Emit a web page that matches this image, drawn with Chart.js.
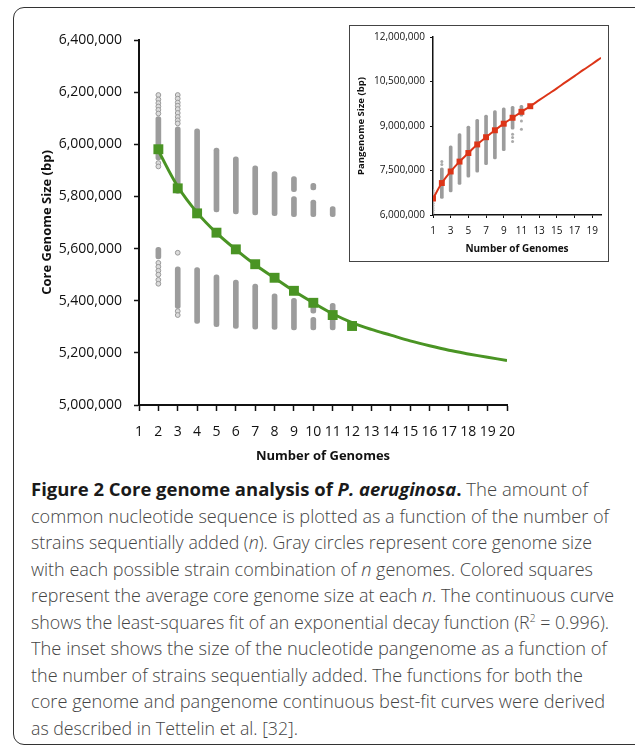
<!DOCTYPE html>
<html>
<head>
<meta charset="utf-8">
<script src="https://cdn.jsdelivr.net/npm/chart.js@4.4.1/dist/chart.umd.min.js"></script>
<style>
  html, body { margin: 0; padding: 0; background: #fff; width: 635px; height: 746px; overflow: hidden; }
  #frame { position: absolute; left: 13px; top: 7px; width: 660px; height: 736px; border: 1.5px solid #333; border-radius: 11px; }
  #mainCanvas { position: absolute; left: 0; top: 0; }
  #insetBox { position: absolute; left: 349px; top: 25px; width: 258px; height: 235px; border: 1.2px solid #444; background: #fff; }
  #insetCanvas { position: absolute; left: 0; top: 0; }
  #caption { position: absolute; left: 31px; top: 476px; font-family: 'Open Sans', sans-serif; font-size: 17.5px; font-weight: 300; color: #444; line-height: 26.5px; }
  #caption .ln { white-space: nowrap; transform-origin: 0 50%; width: max-content; }
  #caption b { font-weight: 700; color: #1a1a1a; }
</style>
</head>
<body>
<div id="frame"></div>
<canvas id="mainCanvas" width="635" height="470"></canvas>
<div id="insetBox"><canvas id="insetCanvas" width="258" height="235"></canvas></div>
<div id="caption">
  <div class="ln" data-w="557"><b>Figure 2 Core genome analysis of <i>P. aeruginosa</i>.</b> The amount of</div>
  <div class="ln" data-w="578">common nucleotide sequence is plotted as a function of the number of</div>
  <div class="ln" data-w="561">strains sequentially added (<i>n</i>). Gray circles represent core genome size</div>
  <div class="ln" data-w="562">with each possible strain combination of <i>n</i> genomes. Colored squares</div>
  <div class="ln" data-w="583">represent the average core genome size at each <i>n</i>. The continuous curve</div>
  <div class="ln" data-w="578">shows the least-squares fit of an exponential decay function (R<sup style="font-size:10px;line-height:0">2</sup> = 0.996).</div>
  <div class="ln" data-w="576">The inset shows the size of the nucleotide pangenome as a function of</div>
  <div class="ln" data-w="552">the number of strains sequentially added. The functions for both the</div>
  <div class="ln" data-w="574">core genome and pangenome continuous best-fit curves were derived</div>
  <div class="ln" data-w="267">as described in Tettelin et al. [32].</div>
</div>
<script>
// ---------------- Main chart: core genome size (bp) ----------------
const coreXTicks = [1,2,3,4,5,6,7,8,9,10,11,12,13,14,15,16,17,18,19,20];
const coreYTicks = [5000000,5200000,5400000,5600000,5800000,6000000,6200000,6400000];

const coreAvgN = [2,3,4,5,6,7,8,9,10,11,12];
const coreAvg  = [5981000,5831000,5735000,5661000,5597000,5540000,5488000,5438000,5392000,5345000,5303000];

const coreFitN = [2,3,4,5,6,7,8,9,10,11,12,13,14,15,16,17,18,19,20];
const coreFit  = [5975000,5838000,5738000,5660000,5596000,5538000,5487000,5437000,5392000,5350000,5316000,5290000,5268000,5246000,5227000,5210000,5196000,5183000,5171000];

// dense runs of gray circles (low..high) per n
const coreBandN    = [2,2,3,3,4,4,5,5,6,6,7,7,8,8,9,9,9,10,10,10,10,11,11];
const coreBandLow  = [5940000,5560000,5812000,5370000,5745000,5313000,5741000,5300000,5733000,5294000,5729000,5291000,5726000,5290000,5818000,5722000,5288000,5825000,5722000,5352000,5288000,5722000,5288000];
const coreBandHigh = [6106000,5605000,6067000,5530000,6059000,5527000,5985000,5499000,5952000,5479000,5917000,5464000,5895000,5426000,5876000,5799000,5409000,5850000,5786000,5387000,5336000,5761000,5390000];

// isolated gray circles
const coreDotN   = [2,2,2,2,2,2,2,2,2,2,2,2,2,2,3,3,3,3,3,3,3,3,3,3,3,3];
const coreDotVal = [6189000,6172000,6158000,6145000,6132000,6118000,5928000,5915000,5545000,5530000,5515000,5500000,5480000,5465000,6189000,6175000,6160000,6148000,6135000,6120000,6105000,6092000,6080000,5584000,5360000,5345000];

// ---------------- Inset: pangenome size (bp) ----------------
const panXTicks = [1,3,5,7,9,11,13,15,17,19];
const panYTicks = [6000000,7500000,9000000,10500000,12000000];

const panAvgN = [1,2,3,4,5,6,7,8,9,10,11,12];
const panAvg  = [6556000,7077000,7467000,7800000,8089000,8378000,8622000,8856000,9078000,9278000,9478000,9667000];

const panFitN = [1,2,3,4,5,6,7,8,9,10,11,12,13,14,15,16,17,18,19,20];
const panFit  = [6556000,7077000,7467000,7800000,8089000,8378000,8622000,8856000,9078000,9278000,9478000,9667000,9870000,10070000,10270000,10480000,10680000,10890000,11090000,11300000];

const panBandN    = [2,3,4,5,6,7,8,9,10,11];
const panBandLow  = [6556000,6778000,7033000,7278000,7444000,7700000,7889000,8167000,8889000,9333000];
const panBandHigh = [7589000,8333000,8744000,9000000,9222000,9367000,9522000,9611000,9667000,9700000];

const panDotN   = [1,1,1,1,1,1,1,1,1,1,2,2,10,10,10,11,11];
const panDotVal = [6830000,6760000,6690000,6620000,6480000,6400000,6320000,6240000,6160000,6070000,7800000,7700000,8722000,8611000,8478000,9167000,8889000];

// ---------------- styling ----------------
const GREEN = '#4a9424';
const RED = '#dc3518';
const GRAY = '#9c9c9c';
Chart.defaults.font.family = "'Open Sans', sans-serif";
Chart.defaults.color = '#111';

function pts(xs, ys) { return xs.map((x, i) => ({ x: x, y: ys[i] })); }
function bands(xs, lo, hi) { return xs.map((x, i) => ({ x: x, y: [lo[i], hi[i]] })); }
function setTicks(arr) { return function (scale) { scale.ticks = arr.map(v => ({ value: v })); }; }

new Chart(document.getElementById('mainCanvas'), {
  type: 'scatter',
  data: {
    datasets: [
      { type: 'scatter', data: pts(coreAvgN, coreAvg), pointStyle: 'rect', pointRadius: 7, pointBackgroundColor: GREEN, pointBorderWidth: 0, order: 0 },
      { type: 'line', data: pts(coreFitN, coreFit), borderColor: GREEN, borderWidth: 3, pointRadius: 0, tension: 0.35, fill: false, order: 1 },
      { type: 'bar', data: bands(coreBandN, coreBandLow, coreBandHigh), backgroundColor: GRAY, borderWidth: 0, borderSkipped: false, borderRadius: 2.5, barThickness: 5, grouped: false, order: 2 },
      { type: 'scatter', data: pts(coreDotN, coreDotVal), pointStyle: 'circle', pointRadius: 2.4, pointBackgroundColor: '#dcdcdc', pointBorderColor: '#999', pointBorderWidth: 1, order: 3 }
    ]
  },
  options: {
    responsive: false, animation: false, devicePixelRatio: 1,
    layout: { padding: { left: 35, right: 128, top: 40, bottom: 2 } },
    plugins: { legend: { display: false }, tooltip: { enabled: false } },
    scales: {
      x: {
        type: 'linear', min: coreXTicks[0], max: coreXTicks[coreXTicks.length - 1], offset: false,
        afterBuildTicks: setTicks(coreXTicks),
        afterFit: s => { s.height = 63; },
        grid: { display: true, drawOnChartArea: false, drawTicks: true, tickLength: 6, color: '#111', tickWidth: 1.5, offset: false },
        border: { display: true, color: '#111', width: 2 },
        ticks: { font: { size: 14 }, color: '#111', padding: 13, maxRotation: 0, autoSkip: false, callback: v => String(v) },
        title: { display: true, text: 'Number of Genomes', font: { size: 13, weight: 'bold' }, color: '#111', padding: { top: 4, bottom: 4 } }
      },
      y: {
        type: 'linear', min: coreYTicks[0], max: coreYTicks[coreYTicks.length - 1],
        afterBuildTicks: setTicks(coreYTicks),
        afterFit: s => { s.width = 104; },
        grid: { display: true, drawOnChartArea: false, drawTicks: true, tickLength: 5, color: '#111', tickWidth: 1.5 },
        border: { display: true, color: '#111', width: 2 },
        ticks: { font: { size: 14 }, color: '#111', padding: 12, callback: v => v.toLocaleString('en-US') },
        title: { display: true, text: 'Core Genome Size (bp)', font: { size: 13, weight: 'bold' }, color: '#111', padding: { top: 4, bottom: 4 } }
      }
    }
  }
});

new Chart(document.getElementById('insetCanvas'), {
  type: 'scatter',
  data: {
    datasets: [
      { type: 'scatter', data: pts(panAvgN, panAvg), pointStyle: 'rect', pointRadius: 4.2, pointBackgroundColor: RED, pointBorderWidth: 0, order: 0 },
      { type: 'line', data: pts(panFitN, panFit), borderColor: RED, borderWidth: 2, pointRadius: 0, tension: 0.35, fill: false, order: 1 },
      { type: 'bar', data: bands(panBandN, panBandLow, panBandHigh), backgroundColor: GRAY, borderWidth: 0, borderSkipped: false, borderRadius: 1.5, barThickness: 3, grouped: false, order: 2 },
      { type: 'scatter', data: pts(panDotN, panDotVal), pointStyle: 'circle', pointRadius: 1.5, pointBackgroundColor: '#aaa', pointBorderWidth: 0, order: 3 }
    ]
  },
  options: {
    responsive: false, animation: false, devicePixelRatio: 1,
    layout: { padding: { left: 6, right: 7, top: 9, bottom: 6 } },
    plugins: { legend: { display: false }, tooltip: { enabled: false } },
    scales: {
      x: {
        type: 'linear', min: 1, max: 20, offset: false,
        afterBuildTicks: setTicks(panXTicks),
        afterFit: s => { s.height = 40; },
        grid: { display: true, drawOnChartArea: false, drawTicks: true, tickLength: 3, color: '#111', tickWidth: 1, offset: false },
        border: { display: true, color: '#111', width: 1.5 },
        ticks: { font: { size: 10 }, color: '#111', padding: 7, maxRotation: 0, autoSkip: false, callback: v => String(v) },
        title: { display: true, text: 'Number of Genomes', font: { size: 10, weight: 'bold' }, color: '#111', padding: { top: 0, bottom: 0 } }
      },
      y: {
        type: 'linear', min: panYTicks[0], max: panYTicks[panYTicks.length - 1],
        afterBuildTicks: setTicks(panYTicks),
        afterFit: s => { s.width = 77; },
        grid: { display: true, drawOnChartArea: false, drawTicks: true, tickLength: 3, color: '#111', tickWidth: 1 },
        border: { display: true, color: '#111', width: 1.5 },
        ticks: { font: { size: 10 }, color: '#111', padding: 5, callback: v => v.toLocaleString('en-US') },
        title: { display: true, text: 'Pangenome Size (bp)', font: { size: 9.5, weight: 'bold' }, color: '#111', padding: { top: 0, bottom: 0 } }
      }
    }
  }
});

// fit each caption line to the measured width of the reference
function fitCaption() {
  document.querySelectorAll('#caption .ln').forEach(el => {
    el.style.transform = 'none';
    const w = el.getBoundingClientRect().width;
    const target = parseFloat(el.dataset.w);
    if (w > 0) el.style.transform = 'scaleX(' + (target / w) + ')';
  });
}
fitCaption();
if (document.fonts && document.fonts.ready) document.fonts.ready.then(fitCaption);
</script>
</body>
</html>
